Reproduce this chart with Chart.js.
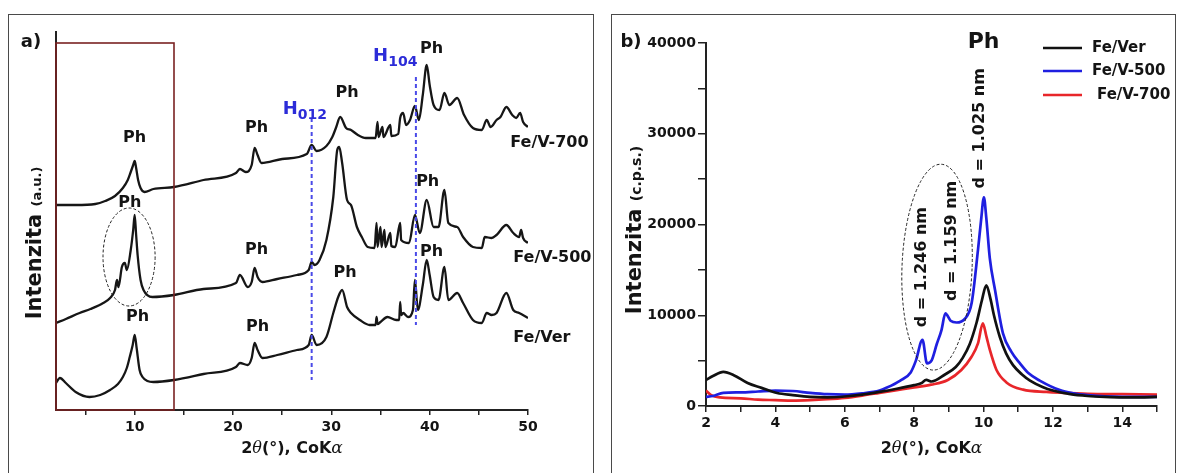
<!DOCTYPE html>
<html>
<head>
<meta charset="utf-8">
<script src="https://cdn.jsdelivr.net/npm/chart.js@4.4.1/dist/chart.umd.min.js"></script>
<style>
  html, body { margin: 0; padding: 0; background: #fff; }
  #wrap { position: relative; width: 1181px; height: 473px; overflow: hidden; background: #fff; }
  .frame { position: absolute; top: 14px; height: 480px; border: 1.5px solid #4a4a4a; box-sizing: border-box; }
  #frameA { left: 8px; width: 586px; }
  #frameB { left: 611px; width: 565px; }
  canvas { position: absolute; top: 0; }
  #chartA { left: 0; }
  #chartB { left: 600px; }
</style>
</head>
<body>
<div id="wrap">
  <div class="frame" id="frameA"></div>
  <div class="frame" id="frameB"></div>
  <canvas id="chartA" width="600" height="473"></canvas>
  <canvas id="chartB" width="581" height="473"></canvas>
</div>
<script>
// ===================== Panel a) : full-range patterns (a.u., traces stacked) =====================
const feVerA_2theta = [2, 2.4, 3, 4, 5.4, 6.5, 7.5, 8.3, 8.8, 9.2, 9.5, 9.8, 10, 10.2, 10.5, 10.8, 11.3, 11.9, 14, 17, 20.3, 20.7, 21.5, 21.9, 22.2, 22.5, 23, 24.5, 26.5, 27.7, 28, 28.5, 29.5, 30.2, 30.7, 31.1, 31.6, 32.0, 32.9, 33.9, 34.5, 34.6, 34.7, 35.0, 35.7, 36.6, 36.9, 37.0, 37.1, 37.3, 37.8, 38.3, 38.5, 38.8, 39.3, 39.7, 40.0, 40.4, 40.9, 41.5, 41.9, 42.8, 43.4, 44.4, 45.3, 45.8, 46.3, 46.8, 47.8, 48.5, 49.1, 50];
const feVerA_int    = [27, 32, 27, 18, 13, 15, 20, 26, 33, 42, 53, 65, 75, 62, 40, 33, 29, 28, 30, 36, 43, 47, 45, 52, 67, 60, 52, 55, 60, 65, 75, 65, 73, 97, 113, 120, 103, 97, 90, 85, 85, 93, 86, 88, 93, 90, 90, 108, 95, 97, 93, 100, 130, 100, 125, 150, 135, 113, 110, 143, 110, 117, 107, 90, 87, 97, 95, 97, 117, 100, 97, 92];

const feV500A_2theta = [2, 3, 4.4, 5.5, 6.8, 7.5, 8.0, 8.2, 8.35, 8.7, 9.0, 9.2, 9.6, 9.85, 10, 10.15, 10.3, 10.6, 10.9, 11.8, 14, 17, 20.3, 20.7, 21.5, 21.9, 22.2, 22.5, 23, 24.5, 26.5, 27.7, 28, 28.3, 28.8, 29.5, 30.2, 30.6, 30.8, 31.1, 31.6, 32.0, 32.6, 33.1, 33.7, 34.4, 34.6, 34.7, 35.0, 35.1, 35.4, 35.5, 36.0, 36.1, 36.5, 37.0, 37.1, 37.9, 38.5, 39.0, 39.7, 40.4, 40.9, 41.5, 41.9, 42.8, 43.4, 44.4, 45.3, 45.6, 46.3, 46.8, 47.8, 48.5, 49.1, 49.3, 49.5, 50];
const feV500A_int    = [87, 91, 97, 101, 107, 112, 120, 130, 123, 143, 147, 140, 160, 180, 195, 175, 155, 130, 120, 113, 115, 121, 127, 135, 123, 128, 142, 133, 128, 131, 135, 140, 148, 145, 150, 170, 213, 260, 263, 247, 210, 205, 183, 173, 163, 162, 187, 163, 183, 163, 180, 163, 177, 164, 163, 187, 170, 167, 195, 177, 210, 183, 183, 220, 187, 183, 173, 163, 162, 173, 172, 175, 185, 177, 173, 180, 172, 167];

const feV700A_2theta = [2, 4, 6, 7, 8, 8.8, 9.3, 9.6, 9.85, 10, 10.15, 10.35, 10.6, 11, 11.9, 14, 17, 20.3, 20.7, 21.3, 21.9, 22.2, 22.5, 22.9, 25, 27.5, 28, 28.5, 29.5, 30.1, 30.5, 30.9, 31.5, 32.0, 32.7, 33.5, 34.5, 34.7, 34.8, 35.2, 35.3, 36.0, 36.1, 36.8, 37.0, 37.3, 37.6, 38.0, 38.5, 38.9, 39.3, 39.7, 40.0, 40.4, 41.0, 41.5, 42.0, 42.8, 43.5, 44.4, 45.3, 45.8, 46.2, 46.8, 47.2, 47.8, 48.4, 48.8, 49.2, 49.5, 50];
const feV700A_int    = [205, 205, 206, 209, 214, 222, 230, 238, 245, 249, 242, 230, 222, 218, 221, 223, 230, 237, 241, 238, 245, 262, 255, 247, 251, 256, 265, 259, 264, 273, 283, 293, 282, 280, 275, 272, 272, 288, 273, 283, 273, 285, 274, 276, 292, 297, 285, 290, 304, 290, 315, 345, 325, 305, 300, 317, 305, 312, 295, 282, 280, 290, 283, 290, 293, 303, 295, 292, 297, 288, 283];

const ticksA_x = [5, 10, 15, 20, 25, 30, 35, 40, 45, 50];
const labelStepA = 10;

// peak assignments drawn on panel a) : [2θ, a.u.]
const phMarksA = [[10, 272], [9.5, 207], [10.3, 93], [22.4, 282], [22.4, 160], [22.5, 83], [31.6, 317], [31.4, 137], [40.2, 361], [39.8, 228], [40.2, 158]];
const hematiteA = [
  { sub: '012', at: 28.0, from: 30, to: 292, label: [27.3, 302] },
  { sub: '104', at: 38.6, from: 85, to: 333, label: [36.5, 355] }
];
const traceNamesA = [['Fe/V-700', 48.2, 267], ['Fe/V-500', 48.5, 152], ['Fe/Ver', 48.5, 72]];

// ===================== Panel b) : low-angle region, c.p.s. =====================
const feVerB_2theta = [2, 2.2, 2.5, 2.8, 3.2, 3.6, 4.05, 4.5, 5, 5.5, 6, 6.5, 7, 7.5, 8, 8.2, 8.35, 8.5, 8.9, 9.2, 9.4, 9.6, 9.8, 9.95, 10.08, 10.2, 10.3, 10.47, 10.65, 10.85, 11.1, 11.34, 11.7, 12.0, 12.5, 13, 13.5, 14, 14.5, 15];
const feVerB_cps    = [2870, 3300, 3750, 3400, 2530, 2000, 1430, 1200, 1000, 950, 1050, 1250, 1550, 1900, 2300, 2500, 2870, 2700, 3500, 4300, 5300, 6800, 9200, 11600, 13300, 11800, 10000, 7600, 5800, 4500, 3500, 2800, 2100, 1700, 1300, 1100, 1000, 950, 950, 1000];

const feV500B_2theta = [2, 2.2, 2.5, 3, 3.5, 4, 4.5, 5, 5.5, 6, 6.5, 7, 7.2, 7.6, 7.9, 8.05, 8.24, 8.37, 8.5, 8.65, 8.79, 8.9, 9.05, 9.22, 9.46, 9.66, 9.84, 9.93, 10.01, 10.08, 10.18, 10.33, 10.56, 10.8, 11.05, 11.3, 11.62, 12.2, 12.6, 13, 13.5, 14, 14.5, 15];
const feV500B_cps    = [1000, 1100, 1450, 1500, 1600, 1700, 1650, 1450, 1300, 1250, 1400, 1700, 2000, 2800, 3700, 5000, 7300, 4700, 5000, 6800, 8400, 10200, 9400, 9200, 9600, 11400, 17200, 20500, 23000, 20700, 16300, 12800, 8000, 6000, 4700, 3600, 2800, 1750, 1400, 1200, 1050, 1000, 1000, 1000];

const feV700B_2theta = [2, 2.15, 2.4, 3, 3.5, 4, 4.5, 5, 5.5, 6, 6.5, 7, 7.5, 8, 8.49, 8.97, 9.36, 9.65, 9.84, 9.98, 10.08, 10.18, 10.37, 10.66, 11.14, 11.81, 12.3, 13, 14, 15];
const feV700B_cps    = [1700, 1200, 950, 850, 700, 650, 600, 650, 750, 900, 1150, 1450, 1750, 2050, 2350, 2870, 3970, 5400, 6900, 9100, 7700, 6200, 4000, 2600, 1800, 1550, 1450, 1350, 1300, 1250];

const ticksB_x = [2, 3, 4, 5, 6, 7, 8, 9, 10, 11, 12, 13, 14, 15];
const ticksB_y = [0, 5000, 10000, 15000, 20000, 25000, 30000, 35000, 40000];
const labelStepBx = 2, labelStepBy = 10000;

// interlayer spacings written over the reflections: [text, 2θ, c.p.s.]
const dSpacingsB = [['d = 1.246 nm', 8.22, 15300], ['d = 1.159 nm', 9.09, 18200], ['d = 1.025 nm', 9.9, 30600]];

// ===================== helpers =====================
const SANS = '"DejaVu Sans", "Liberation Sans", sans-serif';
const SERIF = '"DejaVu Serif", "Liberation Serif", serif';
const INK = '#141414';

function pts(xs, ys) { return xs.map((x, i) => ({ x: x, y: ys[i] })); }

function text(ctx, s, x, y, font, opt) {
  opt = opt || {};
  ctx.save();
  ctx.font = font;
  ctx.fillStyle = opt.color || INK;
  ctx.textAlign = opt.align || 'center';
  ctx.textBaseline = opt.baseline || 'middle';
  ctx.translate(x, y);
  if (opt.rot) ctx.rotate(opt.rot);
  ctx.fillText(s, 0, 0);
  ctx.restore();
}

// runs of differently styled text, centred on (x, y) along the run, y = baseline
function richText(ctx, parts, x, y, rot) {
  ctx.save();
  ctx.translate(x, y);
  if (rot) ctx.rotate(rot);
  let total = 0;
  parts.forEach(p => { ctx.font = p.font; p.w = ctx.measureText(p.t).width; total += p.w; });
  let cx = -total / 2;
  ctx.textAlign = 'left';
  ctx.textBaseline = 'alphabetic';
  parts.forEach(p => {
    ctx.font = p.font; ctx.fillStyle = p.color || INK;
    ctx.fillText(p.t, cx, p.dy || 0);
    cx += p.w;
  });
  ctx.restore();
}

function ellipse(ctx, cx, cy, rx, ry, rot) {
  ctx.save();
  ctx.strokeStyle = '#222';
  ctx.lineWidth = 1;
  ctx.setLineDash([3, 2]);
  ctx.beginPath();
  ctx.ellipse(cx, cy, rx, ry, rot || 0, 0, Math.PI * 2);
  ctx.stroke();
  ctx.restore();
}

function axisTitleX(ctx, area, y) {
  richText(ctx, [
    { t: '2', font: 'bold 16px ' + SANS },
    { t: '\u03B8', font: 'italic 16px ' + SERIF },
    { t: '(\u00B0), CoK', font: 'bold 16px ' + SANS },
    { t: '\u03B1', font: 'italic 17px ' + SERIF }
  ], (area.left + area.right) / 2, y);
}

function fixedTicks(values) {
  return function (scale) { scale.ticks = values.map(v => ({ value: v })); };
}

// ===================== chart a) =====================
const annotateA = {
  id: 'annotateA',
  afterDatasetsDraw(chart) {
    const ctx = chart.ctx, xs = chart.scales.x, ys = chart.scales.y, area = chart.chartArea;
    const X = v => xs.getPixelForValue(v), Y = v => ys.getPixelForValue(v);

    // low-angle window enlarged in b)
    ctx.save();
    ctx.strokeStyle = '#7a2222';
    ctx.lineWidth = 1.6;
    ctx.strokeRect(X(2), Y(367), X(14) - X(2), Y(0) - Y(367));
    ctx.restore();

    // hematite reflections
    hematiteA.forEach(h => {
      ctx.save();
      ctx.strokeStyle = '#4a4ae8';
      ctx.lineWidth = 2;
      ctx.setLineDash([4, 3]);
      ctx.beginPath();
      ctx.moveTo(X(h.at), Y(h.to));
      ctx.lineTo(X(h.at), Y(h.from));
      ctx.stroke();
      ctx.restore();
      richText(ctx, [
        { t: 'H', font: 'bold 18px ' + SANS, color: '#2c2cd8' },
        { t: h.sub, font: 'bold 14px ' + SANS, color: '#2c2cd8', dy: 5 }
      ], X(h.label[0]), Y(h.label[1]) + 6);
    });

    phMarksA.forEach(p => text(ctx, 'Ph', X(p[0]), Y(p[1]), 'bold 16px ' + SANS));
    traceNamesA.forEach(n => text(ctx, n[0], X(n[1]), Y(n[2]), 'bold 16px ' + SANS, { align: 'left' }));

    ellipse(ctx, X(9.43), Y(153), X(12.08) - X(9.43), Y(153) - Y(202), 0);

    text(ctx, 'a)', 31, 42, 'bold 18px ' + SANS);
    axisTitleX(ctx, area, 453);
    richText(ctx, [
      { t: 'Intenzita ', font: 'bold 21px ' + SANS },
      { t: '(a.u.)', font: 'bold 13px ' + SANS }
    ], 41, 243, -Math.PI / 2);
  }
};

new Chart(document.getElementById('chartA'), {
  type: 'line',
  data: {
    datasets: [
      { label: 'Fe/Ver', data: pts(feVerA_2theta, feVerA_int) },
      { label: 'Fe/V-500', data: pts(feV500A_2theta, feV500A_int) },
      { label: 'Fe/V-700', data: pts(feV700A_2theta, feV700A_int) }
    ].map(d => Object.assign(d, { borderColor: '#161616', borderWidth: 2.3, pointRadius: 0, cubicInterpolationMode: 'monotone', fill: false }))
  },
  options: {
    responsive: false,
    animation: false,
    events: [],
    layout: { padding: { left: 56, right: 72, top: 32, bottom: 0 } },
    plugins: { legend: { display: false }, tooltip: { enabled: false } },
    scales: {
      x: {
        type: 'linear', min: 2, max: 50,
        afterBuildTicks: fixedTicks(ticksA_x),
        afterFit(s) { s.height = 63; },
        ticks: {
          autoSkip: false, maxRotation: 0, padding: 4, color: INK,
          font: { family: SANS, size: 14, weight: 'bold' },
          callback: v => (v % labelStepA === 0 ? String(v) : '')
        },
        grid: { display: true, drawOnChartArea: false, drawTicks: true, tickLength: 5, color: '#222', lineWidth: 1.5 },
        border: { display: true, color: '#222', width: 2 }
      },
      y: {
        type: 'linear', min: 0, max: 378,
        afterFit(s) { s.width = 0; },
        ticks: { display: false },
        grid: { display: false },
        border: { display: true, color: '#222', width: 2 }
      }
    }
  },
  plugins: [annotateA]
});

// ===================== chart b) =====================
const annotateB = {
  id: 'annotateB',
  afterDatasetsDraw(chart) {
    const ctx = chart.ctx, xs = chart.scales.x, ys = chart.scales.y, area = chart.chartArea;
    const X = v => xs.getPixelForValue(v), Y = v => ys.getPixelForValue(v);

    ellipse(ctx, X(8.66), Y(15300), X(9.67) - X(8.66), Y(15300) - Y(26650), 0.04);

    dSpacingsB.forEach(d => text(ctx, d[0], X(d[1]), Y(d[2]), 'bold 16px ' + SANS, { rot: -Math.PI / 2 }));
    text(ctx, 'Ph', X(10), Y(40100), 'bold 22px ' + SANS);

    // legend
    const rows = [48, 71, 95], indent = [0, 0, 5];
    chart.data.datasets.forEach((ds, i) => {
      ctx.save();
      ctx.strokeStyle = ds.borderColor;
      ctx.lineWidth = 2.5;
      ctx.beginPath();
      ctx.moveTo(443, rows[i]);
      ctx.lineTo(482, rows[i]);
      ctx.stroke();
      ctx.restore();
      text(ctx, ds.label, 492 + indent[i], rows[i], 'bold 15px ' + SANS, { align: 'left' });
    });

    text(ctx, 'b)', 31, 42, 'bold 18px ' + SANS);
    axisTitleX(ctx, area, 453);
    richText(ctx, [
      { t: 'Intenzita ', font: 'bold 21px ' + SANS },
      { t: '(c.p.s.)', font: 'bold 14px ' + SANS }
    ], 41, 230, -Math.PI / 2);
  }
};

new Chart(document.getElementById('chartB'), {
  type: 'line',
  data: {
    datasets: [
      { label: 'Fe/Ver', data: pts(feVerB_2theta, feVerB_cps), borderColor: '#111111' },
      { label: 'Fe/V-500', data: pts(feV500B_2theta, feV500B_cps), borderColor: '#1f1fe0' },
      { label: 'Fe/V-700', data: pts(feV700B_2theta, feV700B_cps), borderColor: '#e8262a' }
    ].map(d => Object.assign(d, { borderWidth: 2.7, pointRadius: 0, cubicInterpolationMode: 'monotone', fill: false }))
  },
  options: {
    responsive: false,
    animation: false,
    events: [],
    layout: { padding: { left: 26, right: 24, top: 43, bottom: 0 } },
    plugins: { legend: { display: false }, tooltip: { enabled: false } },
    scales: {
      x: {
        type: 'linear', min: 2, max: 15,
        afterBuildTicks: fixedTicks(ticksB_x),
        afterFit(s) { s.height = 67; },
        ticks: {
          autoSkip: false, maxRotation: 0, padding: 3, color: INK,
          font: { family: SANS, size: 14, weight: 'bold' },
          callback: v => (v % labelStepBx === 0 && v < 15 ? String(v) : '')
        },
        grid: { display: true, drawOnChartArea: false, drawTicks: true, tickLength: 6, color: '#222', lineWidth: 1.5 },
        border: { display: true, color: '#222', width: 2 }
      },
      y: {
        type: 'linear', min: 0, max: 40000,
        afterBuildTicks: fixedTicks(ticksB_y),
        afterFit(s) { s.width = 80; },
        ticks: {
          autoSkip: false, padding: 2, color: INK,
          font: { family: SANS, size: 14, weight: 'bold' },
          callback: v => (v % labelStepBy === 0 ? String(v) : '')
        },
        grid: { display: true, drawOnChartArea: false, drawTicks: true, tickLength: 8, color: '#222', lineWidth: 1.5 },
        border: { display: true, color: '#222', width: 2 }
      }
    }
  },
  plugins: [annotateB]
});
</script>
</body>
</html>
